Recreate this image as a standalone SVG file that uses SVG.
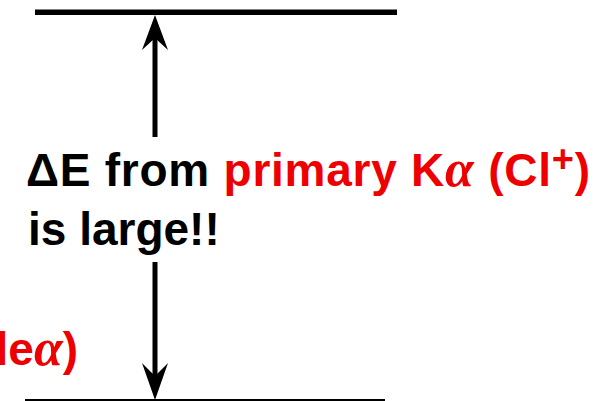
<svg xmlns="http://www.w3.org/2000/svg" width="612" height="401" viewBox="0 0 612 401">
<style>
.t{font-family:"Liberation Sans",Arial,sans-serif;font-weight:bold;font-size:46px}
.r{fill:#ee0000}
.k{fill:#000}
.g{font-family:"Liberation Serif","Times New Roman",serif;font-style:italic;font-weight:bold;font-size:52px}
</style>
<rect width="612" height="401" fill="#fff"/>
<g id="upper-level"><line x1="35" y1="12.3" x2="397" y2="12.3" stroke="#000" stroke-width="5.5"/></g>
<g id="lower-level"><line x1="25" y1="400" x2="385" y2="400" stroke="#000" stroke-width="2"/></g>
<g id="connectors">
<line x1="155" y1="38" x2="155" y2="137" stroke="#000" stroke-width="5"/>
<path d="M155,15 L168,50 L155,38 L142,50 Z" fill="#000"/>
<line x1="155" y1="262" x2="155" y2="376" stroke="#000" stroke-width="5"/>
<path d="M155,400 L168,363 L155,376 L142,363 Z" fill="#000"/>
</g>
<g id="label">
<text class="t k" x="26" y="186" textLength="564" lengthAdjust="spacing">ΔE from <tspan class="r">primary K<tspan class="g">α</tspan> (Cl<tspan font-size="38" dy="-14">+</tspan><tspan dy="14">)</tspan></tspan></text>
<text class="t k" x="28" y="245">is large!!</text>
</g>
<g id="left-label">
<text class="t r" x="78" y="365" text-anchor="end">le<tspan class="g">α</tspan>)</text>
</g>
</svg>
